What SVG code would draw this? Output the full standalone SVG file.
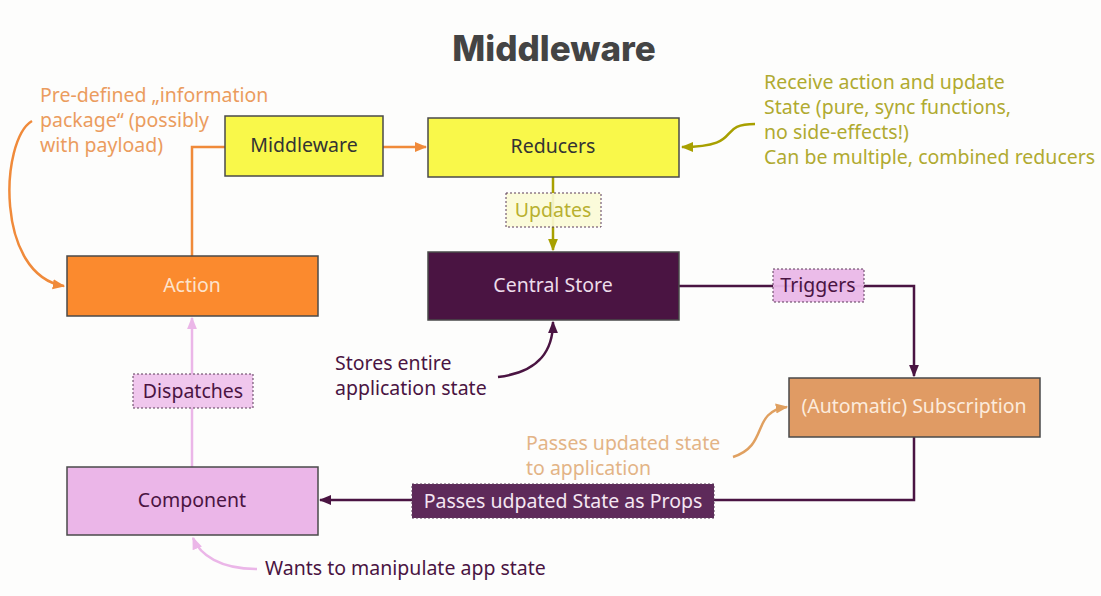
<svg xmlns="http://www.w3.org/2000/svg" width="1101" height="596" viewBox="0 0 1101 596">
<style>
  text { font-family: "Noto Sans", "Open Sans", sans-serif; font-size: 19.5px; }
  .box { stroke: #4a4a4a; stroke-width: 1.5; }
  .lbl { text-anchor: middle; }
  .tag { stroke: #5a3a58; stroke-width: 1; stroke-dasharray: 2 2; }
  .conn { fill: none; stroke-width: 2.5; }
</style>
<defs>
  <marker id="aOr" viewBox="0 0 10 10" refX="9" refY="5" markerWidth="5" markerHeight="5" orient="auto"><path d="M0,1 L10,5 L0,9 z" fill="#f08a3a"/></marker>
  <marker id="aOl" viewBox="0 0 10 10" refX="9" refY="5" markerWidth="5" markerHeight="5" orient="auto"><path d="M0,1 L10,5 L0,9 z" fill="#a8a000"/></marker>
  <marker id="aPu" viewBox="0 0 10 10" refX="9" refY="5" markerWidth="5" markerHeight="5" orient="auto"><path d="M0,1 L10,5 L0,9 z" fill="#4a1442"/></marker>
  <marker id="aPk" viewBox="0 0 10 10" refX="9" refY="5" markerWidth="5" markerHeight="5" orient="auto"><path d="M0,1 L10,5 L0,9 z" fill="#ebb6e8"/></marker>
  <marker id="aTn" viewBox="0 0 10 10" refX="9" refY="5" markerWidth="5" markerHeight="5" orient="auto"><path d="M0,1 L10,5 L0,9 z" fill="#e0a060"/></marker>
</defs>
<rect width="1101" height="596" fill="#fdfdfc"/>
<text x="554" y="61" text-anchor="middle" style="font-family:'Inter','Noto Sans',sans-serif;font-size:35px;font-weight:800;fill:#444">Middleware</text>

<g id="connectors">
  <path class="conn" d="M192,256 V147 H225" stroke="#f08a3a"/>
  <path class="conn" d="M383,147 H426" stroke="#f08a3a" marker-end="url(#aOr)"/>
  <path class="conn" d="M553,177 V250" stroke="#a8a000" marker-end="url(#aOl)"/>
  <path class="conn" d="M679,286 H914 V376" stroke="#4a1442" marker-end="url(#aPu)"/>
  <path class="conn" d="M914,437 V500 H320" stroke="#4a1442" marker-end="url(#aPu)"/>
  <path class="conn" d="M192,467 V318" stroke="#ebb6e8" marker-end="url(#aPk)"/>
  <path class="conn" d="M32,121 C0,140 -5,275 64,286" stroke="#f08a3a" marker-end="url(#aOr)"/>
  <path class="conn" d="M755,124 C715,124 745,147 682,147" stroke="#a8a000" marker-end="url(#aOl)"/>
  <path class="conn" d="M498,377 C540,372 553,350 553,322" stroke="#4a1442" marker-end="url(#aPu)"/>
  <path class="conn" d="M733,457 C770,445 750,412 787,407" stroke="#e0a060" marker-end="url(#aTn)"/>
  <path class="conn" d="M257,569 C220,569 200,555 193,538" stroke="#ebb6e8" marker-end="url(#aPk)"/>
</g>

<g id="middleware"><rect class="box" x="225" y="116" width="158" height="60" fill="#f9f84a"/><text class="lbl" x="304" y="152" fill="#333">Middleware</text></g>
<g id="reducers"><rect class="box" x="428" y="118" width="251" height="59" fill="#f9f84a"/><text class="lbl" x="553" y="153" fill="#333">Reducers</text></g>
<g id="action"><rect class="box" x="67" y="256" width="251" height="60" fill="#fb8a2e"/><text class="lbl" x="192" y="292" fill="#fde3cc">Action</text></g>
<g id="central-store"><rect class="box" x="428" y="252" width="251" height="68" fill="#4a1442"/><text class="lbl" x="553" y="292" fill="#ecdcea">Central Store</text></g>
<g id="subscription"><rect class="box" x="789" y="378" width="251" height="59" fill="#e09b64"/><text class="lbl" x="914" y="413" fill="#fcebdc">(Automatic) Subscription</text></g>
<g id="component"><rect class="box" x="67" y="467" width="251" height="68" fill="#ebb6e8"/><text class="lbl" x="192" y="507" fill="#4a1442">Component</text></g>

<g id="label-updates"><rect class="tag" x="506" y="193" width="95" height="34" fill="#fbfbd6" fill-opacity="0.9"/><text class="lbl" x="553" y="217" fill="#b8b030">Updates</text></g>
<g id="label-triggers"><rect class="tag" x="773" y="269" width="91" height="33" fill="#eab8e8" fill-opacity="0.95"/><text class="lbl" x="818" y="292" fill="#4a1442">Triggers</text></g>
<g id="label-dispatches"><rect class="tag" x="133" y="374" width="120" height="34" fill="#efc4ec" fill-opacity="0.95"/><text class="lbl" x="193" y="398" fill="#4a1442">Dispatches</text></g>
<g id="label-props"><rect class="tag" x="412" y="484" width="302" height="34" fill="#5e2a5a"/><text class="lbl" x="563" y="508" fill="#f4e6f2">Passes udpated State as Props</text></g>

<g id="note-action" fill="#eb9c5e">
  <text x="40" y="102">Pre-defined „information</text>
  <text x="40" y="127">package“ (possibly</text>
  <text x="40" y="152">with payload)</text>
</g>
<g id="note-reducers" fill="#b0aa30">
  <text x="764" y="89">Receive action and update</text>
  <text x="764" y="114">State (pure, sync functions,</text>
  <text x="764" y="139">no side-effects!)</text>
  <text x="764" y="164">Can be multiple, combined reducers</text>
</g>
<g id="note-store" fill="#4a1442">
  <text x="335" y="370">Stores entire</text>
  <text x="335" y="395">application state</text>
</g>
<g id="note-subscription" fill="#e3b486">
  <text x="526" y="450">Passes updated state</text>
  <text x="526" y="475">to application</text>
</g>
<g id="note-component" fill="#4a1442">
  <text x="265" y="575">Wants to manipulate app state</text>
</g>
</svg>
